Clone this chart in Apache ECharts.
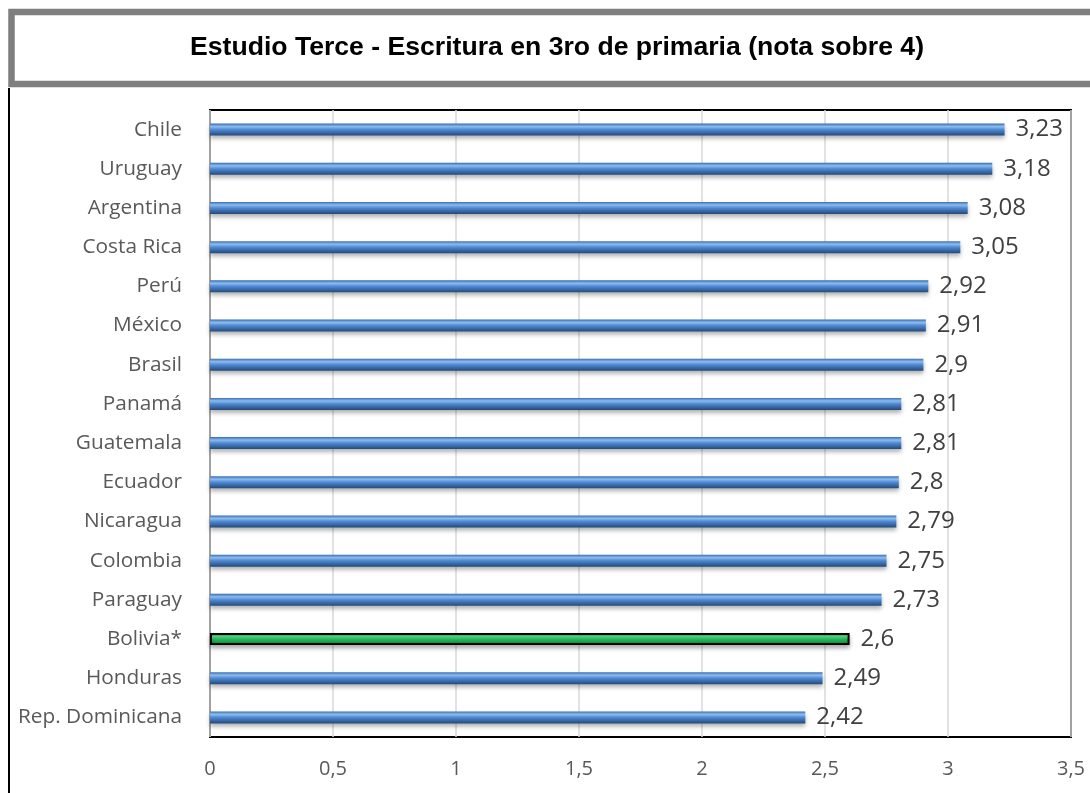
<!DOCTYPE html>
<html>
<head>
<meta charset="utf-8">
<script src="https://cdn.jsdelivr.net/npm/echarts@6/dist/echarts.min.js"></script>
<style>
html,body{margin:0;padding:0;background:#fff;}
#c{width:1090px;height:793px;}
</style>
</head>
<body>
<div id="c"></div>
<script>
const categories = ["Chile","Uruguay","Argentina","Costa Rica","Perú","México","Brasil","Panamá","Guatemala","Ecuador","Nicaragua","Colombia","Paraguay","Bolivia*","Honduras","Rep. Dominicana"];
const values = [3.23,3.18,3.08,3.05,2.92,2.91,2.9,2.81,2.81,2.8,2.79,2.75,2.73,2.6,2.49,2.42];
const highlight = "Bolivia*";
const xTicks = [0,0.5,1,1.5,2,2.5,3,3.5];

const blue = new echarts.graphic.LinearGradient(0,0,0,1,[
  {offset:0,color:'#3a6fb0'},
  {offset:0.25,color:'#8cbcef'},
  {offset:0.5,color:'#4f8ad3'},
  {offset:1,color:'#24497a'}
]);
const green = new echarts.graphic.LinearGradient(0,0,0,1,[
  {offset:0,color:'#0c8f3f'},
  {offset:0.3,color:'#5ee68f'},
  {offset:0.55,color:'#1fc25a'},
  {offset:1,color:'#0a7a34'}
]);

const chart = echarts.init(document.getElementById('c'));
chart.setOption({
  animation:false,
  backgroundColor:'#fff',
  graphic:[
    {type:'rect',shape:{x:11.5,y:12,width:1100,height:72},style:{fill:'#fff',stroke:'#7f7f7f',lineWidth:6.5},z:1},
    {type:'line',shape:{x1:9,y1:88,x2:9,y2:800},style:{stroke:'#000',lineWidth:2},z:1},
    {type:'text',x:557,y:48,style:{text:'Estudio Terce - Escritura en 3ro de primaria (nota sobre 4)',align:'center',verticalAlign:'middle',font:'bold 26.6px "Liberation Sans", Arial, sans-serif',fill:'#000'},z:2}
  ],
  grid:{left:210,right:19,top:110,bottom:56,show:true,borderColor:'#000',borderWidth:2,backgroundColor:'transparent'},
  xAxis:{
    type:'value',min:0,max:3.5,interval:0.5,
    axisLine:{show:false},axisTick:{show:false},
    splitLine:{show:true,lineStyle:{color:'#d9d9d9',width:1.5}},
    axisLabel:{margin:22,color:'#595959',fontSize:20,fontFamily:'"Open Sans", sans-serif',
      formatter:v=>String(v).replace('.',',')}
  },
  yAxis:{
    type:'category',data:categories,inverse:true,
    axisLine:{show:false},axisTick:{show:false},
    axisLabel:{margin:28,color:'#595959',fontSize:20.8,fontFamily:'"Open Sans", sans-serif'}
  },
  series:[{
    type:'bar',barWidth:12,
    data:values.map((v,i)=>categories[i]===highlight
      ? {value:v,itemStyle:{color:green,borderColor:'#000',borderWidth:2}}
      : {value:v}),
    itemStyle:{color:blue,shadowBlur:4,shadowColor:'rgba(0,0,0,0.3)',shadowOffsetY:3},
    label:{show:true,position:'right',distance:11,color:'#404040',fontSize:24,fontFamily:'"Open Sans", sans-serif',
      formatter:p=>String(p.value).replace('.',',')}
  }]
});
</script>
</body>
</html>
